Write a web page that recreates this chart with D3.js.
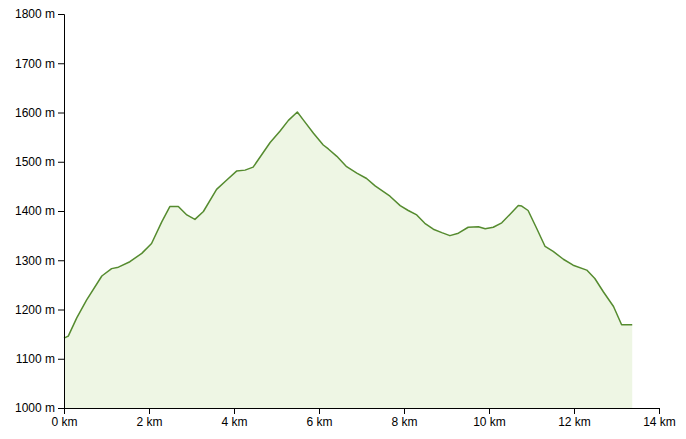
<!DOCTYPE html>
<html><head><meta charset="utf-8">
<script src="https://cdn.jsdelivr.net/npm/d3@7"></script>
<style>body{margin:0;background:#fff;} text{font-family:"Liberation Sans",Arial,sans-serif;}</style>
</head><body>
<svg id="c" width="686" height="439"></svg>
<script>
const distanceKm = [0,0.10,0.30,0.53,0.89,1.12,1.28,1.55,1.83,2.06,2.30,2.49,2.69,2.89,3.08,3.28,3.59,3.83,4.06,4.26,4.45,4.57,4.85,5.08,5.28,5.49,5.63,5.87,6.10,6.22,6.42,6.65,6.89,7.12,7.32,7.67,7.91,8.10,8.30,8.49,8.69,8.89,9.08,9.28,9.51,9.75,9.91,10.10,10.30,10.49,10.69,10.77,10.92,11.12,11.32,11.51,11.75,11.98,12.30,12.49,12.69,12.93,13.12,13.37];
const elevationM = [1142,1146,1183,1219,1268,1283,1286,1297,1314,1334,1378,1409,1409,1392,1383,1399,1444,1463,1481,1483,1489,1504,1539,1562,1584,1601,1585,1558,1534,1526,1511,1490,1477,1466,1451,1430,1411,1401,1392,1375,1363,1356,1350,1355,1367,1368,1364,1367,1376,1393,1411,1410,1401,1365,1328,1318,1302,1290,1280,1263,1236,1206,1169,1169];
const xTicks = [0,2,4,6,8,10,12,14];
const yTicks = [1000,1100,1200,1300,1400,1500,1600,1700,1800];

const data = distanceKm.map((d,i)=>({d, e: elevationM[i]}));
const m = {left:64, top:14, right:27, bottom:31};
const W = 686, H = 439;
const svg = d3.select("#c");
const x = d3.scaleLinear().domain([0,14]).range([m.left, W-m.right]);
const y = d3.scaleLinear().domain([1000,1800]).range([H-m.bottom, m.top]);

svg.append("path").datum(data)
  .attr("fill","#eef6e4")
  .attr("d", d3.area().x(p=>x(p.d)).y0(y(1000)).y1(p=>y(p.e)));
svg.append("path").datum(data)
  .attr("fill","none").attr("stroke","#558b2f").attr("stroke-width",1.5)
  .attr("stroke-linejoin","round")
  .attr("d", d3.line().x(p=>x(p.d)).y(p=>y(p.e)));

const gx = svg.append("g").attr("transform",`translate(0,${y(1000)})`)
  .call(d3.axisBottom(x).tickValues(xTicks).tickFormat(d=>d+" km"));
const gy = svg.append("g").attr("transform",`translate(${x(0)},0)`)
  .call(d3.axisLeft(y).tickValues(yTicks).tickFormat(d=>d+" m"));
[gx,gy].forEach(g=>{
  g.selectAll("text").attr("font-size",12).attr("fill","#000").style("font-family","'Liberation Sans',Arial,sans-serif");
  g.selectAll("line,path").attr("stroke","#000");
});
</script>
</body></html>
